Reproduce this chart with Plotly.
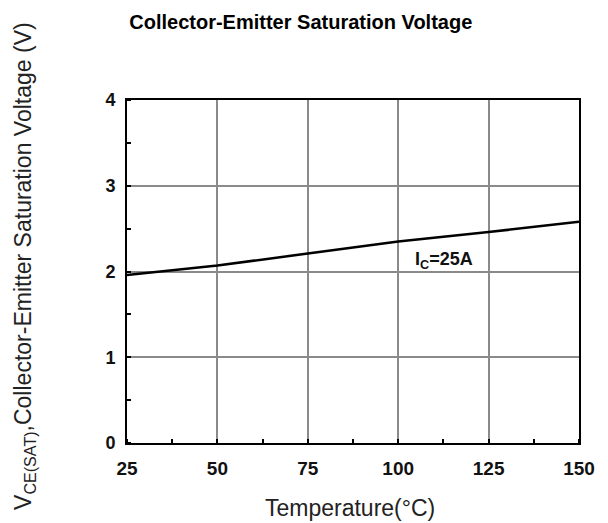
import plotly.graph_objects as go

temperature = [25, 50, 75, 100, 125, 150]
vce_sat = [1.96, 2.07, 2.21, 2.35, 2.46, 2.58]
x_ticks = [25, 50, 75, 100, 125, 150]
y_ticks = [0, 1, 2, 3, 4]

FONT = "Liberation Sans, Arial, sans-serif"

fig = go.Figure()
fig.add_trace(go.Scatter(x=temperature, y=vce_sat, mode="lines",
                         line=dict(color="black", width=2.5), showlegend=False))

fig.add_annotation(x=112.6, y=2.13, text="<b>I<sub>C</sub>=25A</b>", showarrow=False,
                   font=dict(family=FONT, size=18, color="#111"))

fig.add_annotation(x=-0.228, y=0.516, xref="paper", yref="paper", textangle=-90,
                   xanchor="center", yanchor="middle",
                   text="V<sub>CE(SAT)</sub>,Collector-Emitter Saturation Voltage (V)",
                   showarrow=False, font=dict(family=FONT, size=23, color="#222"))

fig.add_annotation(x=0.493, y=-0.1895, xref="paper", yref="paper",
                   xanchor="center", yanchor="middle",
                   text="Temperature(°C)", showarrow=False,
                   font=dict(family=FONT, size=23, color="#222"))

fig.update_layout(
    width=600, height=515,
    margin=dict(l=119, r=29, t=92, b=80),
    paper_bgcolor="white", plot_bgcolor="white",
    title=dict(text="<b>Collector-Emitter Saturation Voltage</b>", x=0.488, xref="container", xanchor="center",
               y=0.973, yref="container", yanchor="middle",
               font=dict(family=FONT, size=20, color="black")),
    font=dict(family=FONT, color="black"),
)
fig.update_xaxes(range=[25, 150], tickvals=x_ticks, showgrid=True, gridcolor="#8a8a8a", gridwidth=2,
                 showline=True, mirror=True, linecolor="black", linewidth=2, ticks="",
                 tickfont=dict(size=19, family=FONT, weight="bold", color="#111"), ticklabelstandoff=7,
                 zeroline=False,
                 minor=dict(ticks="inside", ticklen=4, dtick=12.5, tick0=25, tickcolor="black", tickwidth=2, showgrid=False))
fig.update_yaxes(range=[0, 4], tickvals=y_ticks, showgrid=True, gridcolor="#8a8a8a", gridwidth=2,
                 showline=True, mirror=True, linecolor="black", linewidth=2, ticks="",
                 tickfont=dict(size=18, family=FONT, weight="bold", color="#111"), ticklabelstandoff=6, zeroline=False,
                 minor=dict(ticks="inside", ticklen=4, dtick=0.5, tick0=0, tickcolor="black", tickwidth=2, showgrid=False))

fig.write_html("out.html")
